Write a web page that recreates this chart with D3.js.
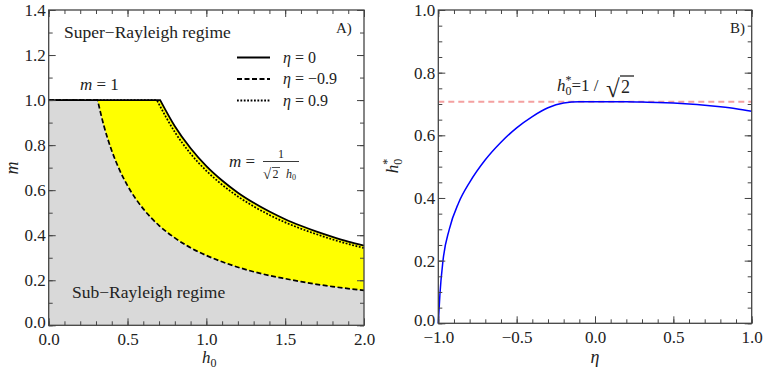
<!DOCTYPE html>
<html><head><meta charset="utf-8">
<script src="https://cdn.jsdelivr.net/npm/d3@7"></script>
<style>
body{margin:0;background:#fff;}
svg{display:block;}
svg text{font-family:"Liberation Serif","Times New Roman",Tinos,"Nimbus Roman","DejaVu Serif","Noto Serif",serif !important;fill:#222;}
</style></head>
<body>
<svg id="c" width="763" height="372"></svg>
<script>
// ---------- data ----------
// Panel A: boundaries m(h0)
const etaZeroH = [0, 0.707, 0.8, 0.9, 1.0, 1.1, 1.2, 1.3, 1.4, 1.5, 1.6, 1.7, 1.8, 1.9, 2.0];
const etaZeroM = [1, 1, 0.884, 0.786, 0.707, 0.643, 0.589, 0.544, 0.505, 0.471, 0.442, 0.416, 0.393, 0.372, 0.354];
const etaPosH = [0, 0.686, 0.8, 0.9, 1.0, 1.1, 1.2, 1.3, 1.4, 1.5, 1.6, 1.7, 1.8, 1.9, 2.0];
const etaPosM = [1, 1, 0.858, 0.762, 0.686, 0.624, 0.572, 0.528, 0.49, 0.457, 0.429, 0.404, 0.381, 0.361, 0.343];
const etaNegH = [0, 0.31, 0.35, 0.4, 0.45, 0.5, 0.6, 0.7, 0.8, 0.9, 1.0, 1.1, 1.2, 1.3, 1.4, 1.5, 1.6, 1.7, 1.8, 1.9, 2.0];
const etaNegM = [1, 1, 0.886, 0.775, 0.689, 0.62, 0.517, 0.443, 0.388, 0.344, 0.31, 0.282, 0.258, 0.238, 0.221, 0.207, 0.194, 0.182, 0.172, 0.163, 0.155];
const legendLabels = ["0", "\u22120.9", "0.9"];
// Panel B: h0*(eta)
const etaVals = [-1, -0.99, -0.97, -0.93, -0.87, -0.8, -0.7, -0.6, -0.5, -0.4, -0.3, -0.2, -0.1, 0, 0.1, 0.2, 0.3, 0.4, 0.5, 0.6, 0.7, 0.8, 0.9, 1.0];
const hStar = [0, 0.09, 0.2, 0.3, 0.385, 0.45, 0.522, 0.578, 0.624, 0.66, 0.688, 0.703, 0.707, 0.707, 0.707, 0.707, 0.706, 0.705, 0.703, 0.700, 0.696, 0.691, 0.685, 0.677];
const hRef = 0.7071;
// ticks
const xTicksA = [0, 0.5, 1.0, 1.5, 2.0];
const yTicksA = [0, 0.2, 0.4, 0.6, 0.8, 1.0, 1.2, 1.4];
const xTicksB = [-1.0, -0.5, 0.0, 0.5, 1.0];
const yTicksB = [0, 0.2, 0.4, 0.6, 0.8, 1.0];

const SERIF = '"Liberation Serif","Times New Roman",Tinos,"Nimbus Roman","DejaVu Serif","Noto Serif",serif';
const svg = d3.select("#c");
const fmt = d3.format(".1f");

const xA = d3.scaleLinear([0, 2], [48.7, 364]);
const yA = d3.scaleLinear([0, 1.4], [325.3, 10]);
const xB = d3.scaleLinear([-1, 1], [438.3, 751.7]);
const yB = d3.scaleLinear([0, 1], [323.3, 10]);

function minorRange(a, b, s) { const r = []; for (let i = 0; a + i * s <= b + 1e-9; i++) r.push(+(a + i * s).toFixed(4)); return r; }

function frame(x, y, xt, yt, xMinor, yMinor) {
  const g = svg.append("g");
  const [x0, x1] = x.range(), [y0, y1] = y.range();
  const style = sel => {
    sel.attr("font-family", SERIF).attr("font-size", 17);
    sel.select(".domain").remove();
    sel.selectAll("line").attr("stroke", "#444").attr("stroke-width", 1);
    sel.selectAll("text").attr("fill", "#222");
  };
  g.append("g").attr("transform", `translate(0,${y0})`).call(d3.axisBottom(x).tickValues(xMinor).tickSize(-4).tickFormat("")).call(style);
  g.append("g").attr("transform", `translate(0,${y1})`).call(d3.axisTop(x).tickValues(xMinor).tickSize(-4).tickFormat("")).call(style);
  g.append("g").attr("transform", `translate(${x0},0)`).call(d3.axisLeft(y).tickValues(yMinor).tickSize(-4).tickFormat("")).call(style);
  g.append("g").attr("transform", `translate(${x1},0)`).call(d3.axisRight(y).tickValues(yMinor).tickSize(-4).tickFormat("")).call(style);
  g.append("g").attr("transform", `translate(0,${y0})`).call(d3.axisBottom(x).tickValues(xt).tickSize(-7).tickPadding(8).tickFormat(fmt)).call(style);
  g.append("g").attr("transform", `translate(0,${y1})`).call(d3.axisTop(x).tickValues(xt).tickSize(-7).tickFormat("")).call(style);
  const yl = g.append("g").attr("transform", `translate(${x0},0)`).call(d3.axisLeft(y).tickValues(yt).tickSize(-7).tickPadding(3).tickFormat(fmt)).call(style);
  yl.selectAll(".tick text").filter(d => d === 0).attr("dy", "0.1em");
  g.append("g").attr("transform", `translate(${x1},0)`).call(d3.axisRight(y).tickValues(yt).tickSize(-7).tickFormat("")).call(style);
  g.append("rect").attr("x", x0).attr("y", y1).attr("width", x1 - x0).attr("height", y0 - y1)
    .attr("fill", "none").attr("stroke", "#444").attr("stroke-width", 1.3);
}

// ---------- Panel A ----------
const smooth = d3.line().curve(d3.curveMonotoneX);
function boundaryPath(H, M) {
  const flat = `M${xA(H[0])},${yA(M[0])}`;
  const pts = H.slice(1).map((h, i) => [xA(h), yA(M[i + 1])]);
  return flat + smooth(pts).replace(/^M/, "L");
}
function areaPath(H, M) {
  return boundaryPath(H, M) + `L${xA(2)},${yA(0)}L${xA(0)},${yA(0)}Z`;
}
svg.append("path").attr("d", areaPath(etaZeroH, etaZeroM)).attr("fill", "#ffff00");
svg.append("path").attr("d", areaPath(etaNegH, etaNegM)).attr("fill", "#d9d9d9");

svg.append("path").attr("d", boundaryPath(etaPosH, etaPosM)).attr("fill", "none").attr("stroke", "#000").attr("stroke-width", 1.7).attr("stroke-dasharray", "1.8,1.6");
svg.append("path").attr("d", boundaryPath(etaZeroH, etaZeroM)).attr("fill", "none").attr("stroke", "#000").attr("stroke-width", 1.8);
svg.append("path").attr("d", boundaryPath(etaNegH, etaNegM)).attr("fill", "none").attr("stroke", "#000").attr("stroke-width", 1.7).attr("stroke-dasharray", "5,2.5");

frame(xA, yA, xTicksA, yTicksA, minorRange(0, 2, 0.1), minorRange(0, 1.4, 0.1));

function txt(x, y, s, size, opts = {}) {
  const t = svg.append("text").attr("x", x).attr("y", y).attr("font-family", SERIF).style("font-size", size + "px");
  if (opts.anchor) t.attr("text-anchor", opts.anchor);
  if (opts.italic) t.style("font-style", "italic");
  if (s !== null) t.text(s);
  return t;
}
txt(64, 38, "Super\u2212Rayleigh regime", 17.5);
txt(72, 298, "Sub\u2212Rayleigh regime", 17.5);
txt(336, 33, "A)", 15);
const m1 = txt(80, 90, null, 17);
m1.append("tspan").style("font-style", "italic").text("m");
m1.append("tspan").text(" = 1");

// legend
const dashes = [null, "5,2.5", "1.8,1.6"];
legendLabels.forEach((lab, i) => {
  const y = 57.5 + i * 21.5;
  svg.append("line").attr("x1", 237).attr("x2", 270).attr("y1", y).attr("y2", y)
    .attr("stroke", "#000").attr("stroke-width", 1.8).attr("stroke-dasharray", dashes[i]);
  const t = txt(283, y + 5, null, 16);
  t.append("tspan").style("font-style", "italic").text("\u03b7");
  t.append("tspan").text(" = " + lab);
});

// formula m = 1/(sqrt2 h0)
const mf = txt(229, 167, null, 17);
mf.append("tspan").style("font-style", "italic").text("m");
mf.append("tspan").text(" = ");
svg.append("line").attr("x1", 263).attr("x2", 299).attr("y1", 161.5).attr("y2", 161.5).attr("stroke", "#222").attr("stroke-width", 0.9);
txt(281, 158, "1", 12, { anchor: "middle" });
txt(263, 179, "\u221a", 15);
svg.append("line").attr("x1", 272).attr("x2", 280).attr("y1", 167.5).attr("y2", 167.5).attr("stroke", "#222").attr("stroke-width", 0.8);
txt(272.5, 177.5, "2", 12);
const hh = txt(286, 177.5, null, 12);
hh.append("tspan").style("font-style", "italic").text("h");
hh.append("tspan").attr("dy", 2).style("font-size", "8px").text("0");

// axis labels A
const xl = txt(202, 363, null, 17);
xl.append("tspan").style("font-style", "italic").text("h");
xl.append("tspan").attr("dy", 4).style("font-size", "12px").text("0");
txt(0, 0, "m", 18, { anchor: "middle", italic: true }).attr("transform", "translate(18,168) rotate(-90)");

// ---------- Panel B ----------
svg.append("line").attr("x1", xB(-1)).attr("x2", xB(1)).attr("y1", yB(hRef)).attr("y2", yB(hRef))
  .attr("stroke", "#f4a0a0").attr("stroke-width", 2).attr("stroke-dasharray", "6,4");
const lineB = d3.line().x((d, i) => xB(etaVals[i])).y(d => yB(d)).curve(d3.curveMonotoneX);
svg.append("path").attr("d", lineB(hStar)).attr("fill", "none").attr("stroke", "#0000ff").attr("stroke-width", 1.5);

frame(xB, yB, xTicksB, yTicksB, minorRange(-1, 1, 0.1), minorRange(0, 1, 0.05));

txt(730, 33, "B)", 15);
const hs = txt(557, 91, null, 17);
hs.append("tspan").style("font-style", "italic").text("h");
hs.append("tspan").attr("dy", 4).style("font-size", "12px").text("0");
hs.append("tspan").attr("dx", -6).attr("dy", -11).style("font-size", "12px").text("*");
hs.append("tspan").attr("dy", 7).text("=1 /");
txt(606, 97, "\u221a", 25).style("font-weight", "bold");
svg.append("line").attr("x1", 620).attr("x2", 634).attr("y1", 76).attr("y2", 76).attr("stroke", "#222").attr("stroke-width", 1.3);
txt(621, 93, "2", 18);

txt(595, 363, "\u03b7", 18, { anchor: "middle", italic: true });
const ylb = svg.append("text").attr("transform", "translate(398,166) rotate(-90)").attr("text-anchor", "middle").attr("font-family", SERIF).style("font-size", "17px");
ylb.append("tspan").style("font-style", "italic").text("h");
ylb.append("tspan").attr("dy", 4).style("font-size", "12px").text("0");
ylb.append("tspan").attr("dx", -6).attr("dy", -11).style("font-size", "12px").text("*");
</script>
</body></html>
